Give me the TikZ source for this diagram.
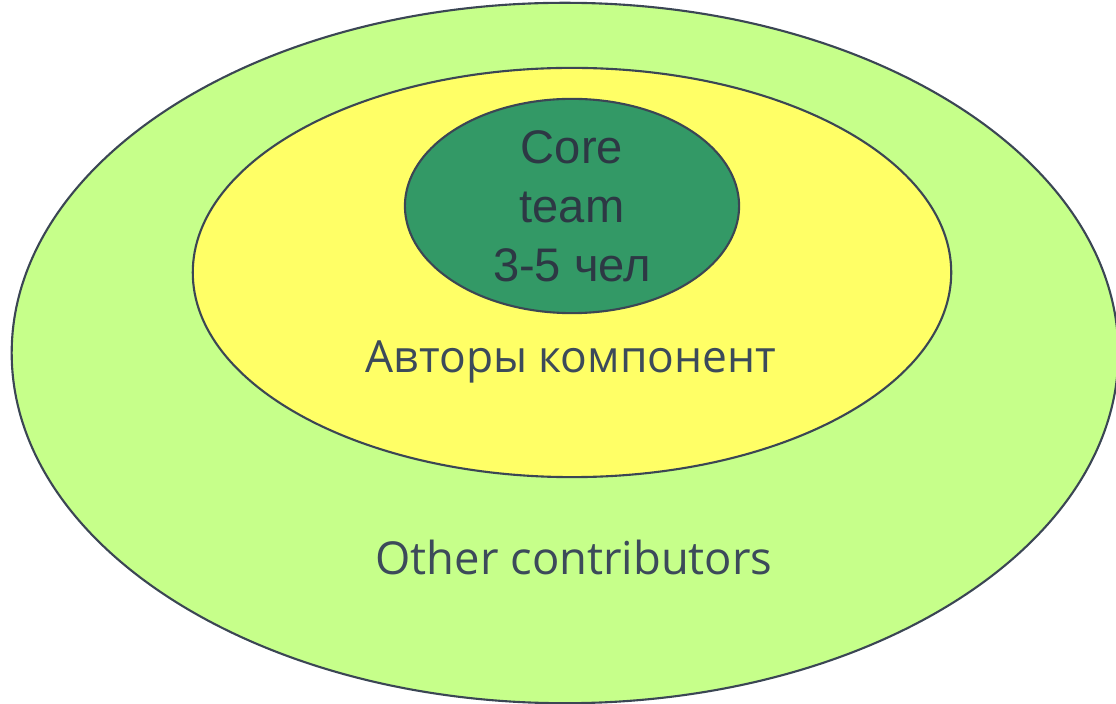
\documentclass[tikz,border=0pt]{standalone}
\usepackage{fontspec}
\setmainfont{Liberation Sans}
\newfontfamily\labelfont{Open Sans}
\usetikzlibrary{shapes.geometric}
\definecolor{outergreen}{RGB}{198,255,138}
\definecolor{midyellow}{RGB}{255,255,102}
\definecolor{coregreen}{RGB}{51,153,102}
\definecolor{rimgray}{RGB}{59,70,84}
\definecolor{inkgray}{RGB}{60,74,90}

\begin{document}
\begin{tikzpicture}[
    x=0.01cm,
    y=-0.01cm,
    ring/.style={
      draw=rimgray,
      line width=0.6pt,
      ellipse,
      inner sep=0pt
    },
    every node/.style={
      text=inkgray
    }
  ]
    \useasboundingbox (0, 0) rectangle (1116, 704);

    \node[ring, fill=outergreen, minimum width=11.06cm, minimum height=7cm] (others) at (565, 353) {};
    \node[ring, fill=midyellow, minimum width=7.58cm, minimum height=4.09cm] (authors) at (572, 272.5) {};
    \node[ring, fill=coregreen, minimum width=3.34cm, minimum height=2.1cm,
      align=center, font=\fontsize{13.4pt}{16.8pt}\selectfont, text=inkgray!75!black] (core) at (572, 206) {Core\\team\\3-5 чел};

    \node[font=\labelfont\fontsize{12.6pt}{16pt}\selectfont] (authorslabel) at (571, 362) {Авторы компонент};
    \node[font=\labelfont\fontsize{12.9pt}{16pt}\selectfont] (otherslabel) at (574, 557) {Other contributors};
  \end{tikzpicture}
\end{document}
